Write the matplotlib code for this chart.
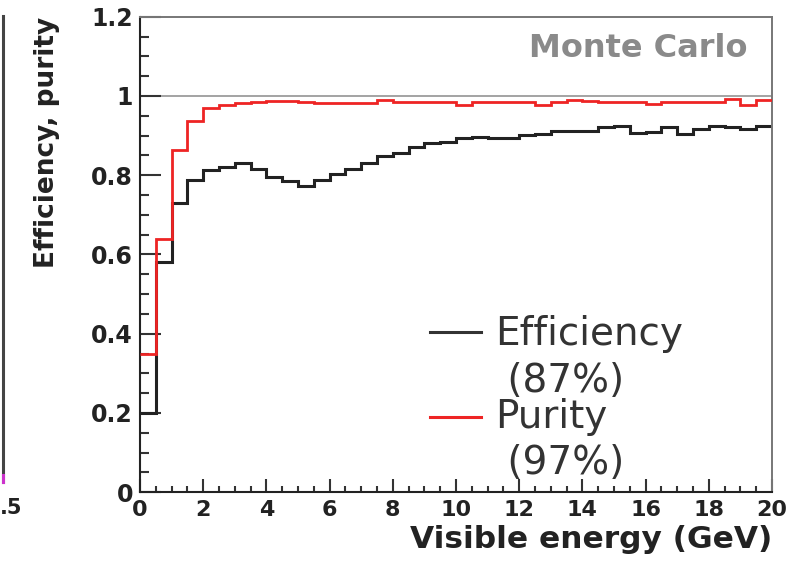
import numpy as np
import matplotlib
matplotlib.use("Agg")
import matplotlib.pyplot as plt
from matplotlib.lines import Line2D

# 0.5 GeV bins from 0 to 20 GeV
bin_edges = np.arange(0, 20.5, 0.5)

efficiency = [0.200, 0.582, 0.731, 0.788, 0.813, 0.820, 0.830, 0.815, 0.796, 0.785,
              0.772, 0.787, 0.803, 0.816, 0.831, 0.848, 0.855, 0.872, 0.881, 0.884,
              0.893, 0.897, 0.893, 0.893, 0.902, 0.904, 0.911, 0.911, 0.911, 0.922,
              0.924, 0.906, 0.910, 0.922, 0.903, 0.917, 0.924, 0.922, 0.916, 0.924]

purity = [0.350, 0.640, 0.864, 0.938, 0.969, 0.978, 0.983, 0.984, 0.988, 0.988,
          0.984, 0.982, 0.982, 0.982, 0.982, 0.990, 0.984, 0.984, 0.984, 0.984,
          0.978, 0.985, 0.985, 0.986, 0.986, 0.978, 0.986, 0.989, 0.987, 0.986,
          0.985, 0.985, 0.979, 0.986, 0.986, 0.986, 0.986, 0.993, 0.977, 0.989]

x_ticks = [0, 2, 4, 6, 8, 10, 12, 14, 16, 18, 20]
y_ticks = [0, 0.2, 0.4, 0.6, 0.8, 1.0, 1.2]
y_tick_labels = ["0", "0.2", "0.4", "0.6", "0.8", "1", "1.2"]

legend_labels = [("Efficiency", " (87%)"), ("Purity", " (97%)")]

plt.rcParams["font.family"] = ["DejaVu Sans"]
plt.rcParams["font.weight"] = "bold"

fig = plt.figure(figsize=(7.94, 5.65), dpi=100)
ax = fig.add_axes([0.1763, 0.1288, 0.796, 0.8416])

ax.axhline(1.0, color="#a3a3a3", lw=1.4, zorder=1)
ax.stairs(efficiency, bin_edges, color="#222222", lw=2.2, baseline=None, zorder=2)
ax.stairs(purity, bin_edges, color="#ee2424", lw=2.0, baseline=None, zorder=3)

ax.set_xlim(0, 20)
ax.set_ylim(0, 1.2)

ax.set_xticks(x_ticks)
ax.set_xticks(np.arange(0, 20.01, 0.5), minor=True)
ax.set_yticks(y_ticks)
ax.set_yticklabels(y_tick_labels)
ax.set_yticks(np.arange(0, 1.201, 0.05), minor=True)

ax.tick_params(axis="y", which="major", direction="in", length=15, width=1.5,
               color="#333333", pad=5, labelsize=17, labelcolor="#222222")
ax.tick_params(axis="y", which="minor", direction="in", length=6.5, width=1.5,
               color="#333333")
ax.tick_params(axis="x", which="major", direction="in", length=9.4, width=1.5,
               color="#333333", pad=5.5, labelsize=16, labelcolor="#222222")
ax.tick_params(axis="x", which="minor", direction="in", length=4.3, width=1.5,
               color="#333333")

for side in ["left", "bottom"]:
    ax.spines[side].set_color("#222222")
    ax.spines[side].set_linewidth(1.5)
for side in ["top", "right"]:
    ax.spines[side].set_color("#777777")
    ax.spines[side].set_linewidth(1.4)

ax.set_xlabel("Visible energy (GeV)", loc="right", fontsize=22.5,
              fontweight="bold", color="#222222", labelpad=4)
ax.set_ylabel("Efficiency, purity", loc="top", fontsize=19,
              fontweight="bold", color="#222222")
ax.yaxis.set_label_coords(-0.127, 1.0)

ax.text(0.962, 0.934, "Monte Carlo", transform=ax.transAxes, ha="right",
        va="center", color="#8a8a8a", fontsize=23, fontweight="bold")

# legend drawn by hand: line next to the first text row only
legend_colors = ["#333333", "#ee2424"]
handle_y = [0.337, 0.158]
text_rows = [(0.3097, 0.2108), (0.1351, 0.0384)]
for (name, frac), color, hy, (y1, y2) in zip(legend_labels, legend_colors,
                                              handle_y, text_rows):
    ax.add_line(Line2D([0.459, 0.540], [hy, hy], transform=ax.transAxes,
                       color=color, lw=2.2))
    ax.text(0.5617, y1, name, transform=ax.transAxes, ha="left",
            va="baseline", fontsize=28, fontweight="normal", color="#333333")
    ax.text(0.5617, y2, frac, transform=ax.transAxes, ha="left",
            va="baseline", fontsize=28, fontweight="normal", color="#333333")

# edge of the neighbouring panel on the left
fig.add_artist(Line2D([0.004, 0.004], [0.147, 0.972], color="#444444", lw=2.2))
fig.add_artist(Line2D([0.004, 0.004], [0.147, 0.160], color="#cc33cc", lw=2.2))
fig.text(0.0, 0.101, ".5", fontsize=15, fontweight="bold",
         color="#222222", ha="left", va="center")

fig.savefig("out.png", dpi=100)
